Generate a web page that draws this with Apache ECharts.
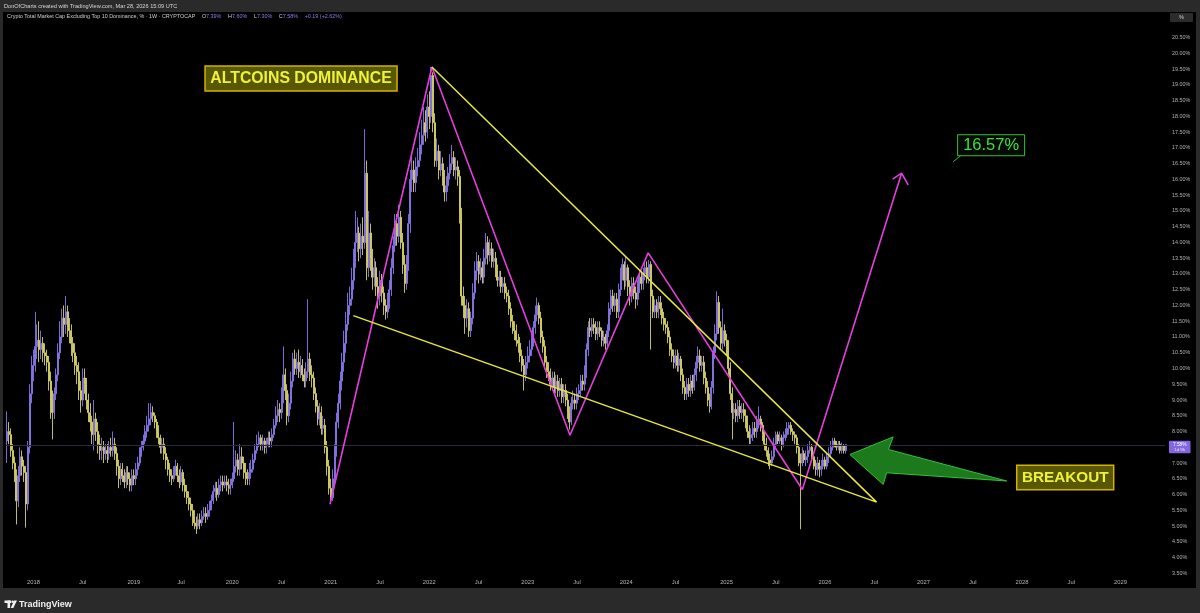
<!DOCTYPE html>
<html>
<head>
<meta charset="utf-8">
<script src="https://cdn.jsdelivr.net/npm/echarts@6/dist/echarts.min.js"></script>
<style>
  html, body { margin: 0; background: #000; }
  #chart { width: 1200px; height: 613px; }
</style>
</head>
<body>
<div id="chart"></div>
<script>
// weekly candles, CRYPTOCAP:OTHERS.D style, from 2017-09-25 to 2026-03-23
const startDate = Date.UTC(2017, 8, 25);
const totalWeeks = 612;          // axis runs on into 2029
const firstOpen = 7.7;
const closes = [
  8.0, 7.9, 7.4, 7.0, 6.6, 5.8, 6.6, 7.2, 6.9, 6.7,
  5.7, 7.5, 9.2, 9.9, 10.1, 10.7, 10.9, 10.6, 10.8, 10.5,
  10.4, 10.2, 9.6, 9.0, 8.6, 9.2, 9.8, 10.5, 11.0, 11.6,
  11.4, 11.8, 11.3, 11.2, 10.8, 10.5, 10.1, 9.9, 9.3, 9.0,
  9.7, 9.5, 9.0, 8.6, 8.3, 7.9, 8.4, 8.0, 7.6, 7.4,
  7.5, 7.3, 7.4, 7.3, 7.5, 7.4, 7.6, 7.3, 6.9, 6.5,
  6.8, 6.6, 6.4, 6.7, 6.5, 6.3, 6.6, 6.5, 6.8, 7.0,
  7.3, 7.5, 7.7, 8.0, 8.2, 8.4, 8.6, 8.5, 8.3, 8.0,
  7.8, 7.5, 7.6, 7.3, 7.1, 6.8, 6.6, 6.5, 6.7, 6.9,
  6.6, 6.4, 6.7, 6.3, 6.1, 5.9, 5.7, 5.5, 5.3, 5.1,
  5.0, 5.2, 5.1, 5.3, 5.4, 5.3, 5.5, 5.6, 5.8, 6.1,
  6.2, 6.0, 6.3, 6.4, 6.3, 6.4, 6.3, 6.2, 6.3, 6.5,
  6.9, 7.1, 6.8, 7.2, 7.0, 6.7, 6.6, 6.5, 6.7, 6.8,
  7.1, 7.4, 7.6, 7.8, 7.6, 7.7, 7.5, 7.6, 7.8, 7.7,
  7.9, 8.2, 8.5, 8.7, 8.6, 9.1, 9.8, 9.3, 8.5, 8.9,
  9.6, 10.3, 10.0, 10.2, 9.9, 10.1, 9.8, 9.6, 9.9, 10.3,
  9.8, 9.7, 9.2, 8.8, 8.4, 8.6, 8.1, 8.2, 7.5, 6.9,
  6.2, 5.9, 6.5, 7.4, 8.3, 8.9, 9.6, 10.2, 10.8, 11.4,
  12.0, 12.2, 12.8, 13.4, 14.0, 14.3, 13.8, 14.2, 14.0, 16.2,
  13.2, 14.3, 13.5, 12.9, 13.2, 12.6, 12.3, 12.8, 12.4, 12.0,
  11.8, 12.1, 12.5, 13.2, 13.9, 14.6, 14.2, 14.8, 14.0, 13.3,
  12.7, 13.3, 14.6, 16.0, 16.3, 15.9, 16.4, 16.6, 17.1, 17.4,
  17.8, 17.5, 18.3, 18.0, 19.3, 17.8, 16.6, 16.9, 16.3, 16.5,
  16.1, 15.6, 15.8, 16.2, 16.5, 16.7, 16.3, 16.4, 16.1, 14.9,
  12.3, 12.0, 11.6, 11.9, 11.2, 11.6, 12.4, 13.1, 13.4, 13.0,
  13.2, 12.9, 13.5, 14.0, 13.6, 13.8, 13.4, 13.5, 13.1, 12.8,
  12.9, 12.6, 12.7, 12.4, 12.3, 11.9, 11.5, 11.3, 11.2, 10.9,
  10.8, 10.4, 10.1, 9.8, 10.2, 10.4, 10.6, 10.9, 11.3, 11.7,
  12.0, 11.6, 11.0, 10.7, 10.2, 9.9, 9.8, 9.5, 9.7, 9.4,
  9.6, 9.3, 9.5, 9.1, 9.3, 9.0, 8.6, 8.3, 8.9, 9.0,
  8.9, 9.2, 9.3, 9.6, 9.5, 9.9, 10.6, 11.3, 11.2, 11.4,
  11.3, 11.1, 11.3, 11.2, 10.9, 11.0, 10.8, 11.2, 11.9, 12.3,
  12.0, 12.2, 11.8, 12.5, 13.0, 13.3, 12.8, 13.2, 12.6, 12.3,
  12.7, 12.4, 12.2, 12.6, 12.9, 12.7, 13.0, 13.2, 12.9, 13.3,
  12.3, 11.8, 12.0, 11.8, 12.1, 11.9, 11.6, 11.4, 11.3, 11.0,
  10.6, 10.4, 10.2, 10.4, 10.1, 10.3, 9.8, 9.4, 9.2, 9.5,
  9.3, 9.6, 9.4, 9.8, 10.2, 10.4, 10.1, 10.2, 9.7, 9.4,
  9.0, 8.8, 9.4, 10.5, 11.1, 12.1, 11.3, 10.8, 11.2, 10.9,
  10.7, 10.0, 9.2, 8.6, 8.7, 8.5, 8.8, 8.6, 8.7, 8.5,
  8.3, 8.0, 7.8, 7.9, 8.1, 8.0, 8.3, 8.4, 8.2, 7.9,
  7.6, 7.4, 7.1, 7.0, 7.2, 7.6, 7.9, 7.7, 7.8, 7.6,
  7.8, 7.9, 8.1, 8.2, 8.0, 7.9, 7.8, 7.5, 7.1, 7.0,
  7.3, 7.1, 7.2, 7.4, 7.5, 7.2, 6.9, 6.8, 7.0, 6.8,
  6.9, 7.1, 6.9, 7.2, 7.3, 7.5, 7.7, 7.6, 7.5, 7.6,
  7.4, 7.55, 7.39, 7.58
];
const highs = [
  8.64, 8.3, 8.1, 7.6, 7.2, 6.8, 6.9, 7.5, 7.4, 7.1,
  6.9, 7.7, 9.5, 10.4, 10.6, 11.8, 11.4, 11.5, 11.2, 11.0,
  10.8, 10.6, 10.4, 9.9, 9.3, 9.4, 10.0, 10.8, 11.5, 11.9,
  12.0, 12.3, 12.0, 11.6, 11.4, 11.0, 10.8, 10.4, 10.2, 9.6,
  10.0, 10.0, 9.7, 9.2, 8.9, 8.5, 9.0, 8.6, 8.3, 7.9,
  7.8, 7.7, 7.6, 7.6, 7.7, 7.8, 8.0, 7.8, 7.5, 7.1,
  7.0, 7.0, 6.8, 6.9, 6.9, 6.7, 6.8, 6.8, 7.0, 7.2,
  7.5, 7.7, 7.9, 8.2, 8.5, 8.9, 8.9, 8.8, 8.6, 8.4,
  8.2, 7.9, 7.8, 7.8, 7.5, 7.2, 7.0, 6.8, 6.9, 7.1,
  7.0, 6.8, 6.9, 6.8, 6.5, 6.3, 6.1, 5.9, 5.7, 5.5,
  5.3, 5.4, 5.4, 5.5, 5.6, 5.6, 5.7, 5.8, 6.0, 6.3,
  6.4, 6.4, 6.5, 6.6, 6.6, 6.6, 6.6, 6.5, 6.5, 6.7,
  8.3, 7.4, 7.3, 7.6, 7.5, 7.2, 7.0, 6.8, 7.0, 7.1,
  7.3, 7.6, 7.9, 8.0, 7.9, 7.9, 7.8, 7.8, 8.0, 8.0,
  8.1, 8.4, 8.8, 9.0, 8.9, 9.4, 10.7, 10.0, 9.5, 9.2,
  9.9, 10.5, 10.6, 10.5, 10.6, 10.4, 10.3, 10.0, 10.2, 12.2,
  10.5, 10.1, 9.9, 9.4, 9.0, 8.9, 8.8, 8.5, 8.4, 7.7,
  7.1, 6.5, 6.8, 7.6, 8.6, 9.2, 9.9, 10.5, 11.2, 11.8,
  12.4, 12.6, 13.2, 13.8, 15.0, 14.8, 14.5, 14.6, 14.8, 17.6,
  16.6, 15.0, 14.6, 13.8, 13.5, 13.4, 12.9, 13.1, 13.0, 12.6,
  12.2, 12.4, 12.8, 13.5, 14.2, 14.9, 14.9, 15.2, 15.0, 14.3,
  13.6, 13.6, 14.9, 16.3, 16.8, 16.6, 16.7, 17.0, 17.5, 17.9,
  18.3, 18.2, 18.7, 18.8, 19.57, 19.4, 18.1, 17.3, 17.1, 16.9,
  16.7, 16.3, 16.1, 16.4, 16.8, 17.1, 16.9, 16.7, 16.6, 16.3,
  15.1, 12.6, 12.3, 12.2, 12.1, 11.8, 12.7, 13.4, 13.7, 13.6,
  13.5, 13.4, 13.8, 14.3, 14.2, 14.1, 14.0, 13.8, 13.7, 13.3,
  13.1, 13.1, 12.9, 12.9, 12.6, 12.5, 12.1, 11.7, 11.5, 11.4,
  11.1, 11.0, 10.6, 10.3, 10.4, 10.7, 10.9, 11.2, 11.5, 12.0,
  12.25, 12.1, 11.8, 11.2, 10.9, 10.4, 10.2, 10.0, 9.9, 9.9,
  9.8, 9.8, 9.7, 9.7, 9.5, 9.5, 9.2, 8.8, 9.1, 9.3,
  9.2, 9.4, 9.5, 9.8, 9.8, 10.1, 10.8, 11.5, 11.6, 11.6,
  11.6, 11.5, 11.5, 11.5, 11.3, 11.2, 11.1, 11.4, 12.1, 12.5,
  12.5, 12.4, 12.4, 12.7, 13.2, 13.5, 13.4, 13.55, 13.3, 12.8,
  12.9, 12.9, 12.6, 12.8, 13.1, 13.1, 13.2, 13.4, 13.4, 13.45,
  13.4, 12.5, 12.2, 12.2, 12.3, 12.3, 12.1, 11.8, 11.6, 11.5,
  11.2, 10.8, 10.6, 10.6, 10.6, 10.5, 10.4, 10.0, 9.6, 9.7,
  9.7, 9.8, 9.8, 10.0, 10.4, 10.7, 10.6, 10.4, 10.4, 9.9,
  9.6, 9.2, 9.6, 10.7, 11.4, 12.45, 12.3, 11.5, 11.9, 11.4,
  11.1, 10.9, 10.2, 9.4, 8.9, 8.9, 9.0, 9.0, 8.9, 8.9,
  8.7, 8.5, 8.2, 8.1, 8.3, 8.3, 8.5, 8.8, 8.5, 8.3,
  8.0, 7.8, 7.5, 7.3, 7.4, 7.8, 8.0, 8.0, 8.0, 7.9,
  8.0, 8.1, 8.3, 8.3, 8.3, 8.1, 8.0, 7.9, 7.6, 7.3,
  7.5, 7.4, 7.4, 7.6, 7.7, 7.6, 7.3, 7.1, 7.2, 7.1,
  7.1, 7.3, 7.2, 7.3, 7.5, 7.7, 7.8, 7.8, 7.7, 7.7,
  7.7, 7.65, 7.6, 7.60
];
const lows = [
  7.0, 7.6, 7.2, 6.8, 6.4, 5.05, 5.6, 6.4, 6.6, 6.4,
  4.95, 5.5, 7.3, 8.9, 9.6, 9.9, 10.3, 10.2, 10.3, 10.2,
  10.1, 9.9, 9.3, 8.4, 7.75, 8.4, 9.0, 9.6, 10.3, 10.8,
  11.0, 11.1, 11.0, 10.8, 10.4, 10.2, 9.8, 9.5, 9.0, 8.6,
  8.8, 9.2, 8.7, 8.3, 8.0, 7.6, 7.4, 7.7, 7.3, 7.1,
  7.1, 7.0, 7.1, 7.0, 7.1, 7.2, 7.2, 7.1, 6.6, 6.2,
  6.3, 6.4, 6.2, 6.2, 6.3, 6.1, 6.1, 6.3, 6.3, 6.6,
  6.9, 7.2, 7.4, 7.6, 7.8, 8.0, 8.2, 8.3, 8.1, 7.8,
  7.6, 7.3, 7.3, 7.1, 6.8, 6.6, 6.4, 6.3, 6.4, 6.6,
  6.4, 6.2, 6.3, 6.1, 5.9, 5.7, 5.5, 5.3, 5.0, 4.9,
  4.75, 4.9, 4.9, 5.0, 5.2, 5.1, 5.2, 5.3, 5.5, 5.7,
  5.9, 5.8, 5.9, 6.1, 6.1, 6.2, 6.1, 6.0, 6.0, 6.2,
  6.4, 6.7, 6.6, 6.6, 6.8, 6.5, 6.3, 6.3, 6.3, 6.5,
  6.7, 7.0, 7.3, 7.5, 7.4, 7.4, 7.3, 7.3, 7.5, 7.5,
  7.5, 7.8, 8.1, 8.3, 8.3, 8.4, 8.9, 9.0, 8.2, 8.3,
  8.7, 9.4, 9.8, 9.8, 9.7, 9.7, 9.6, 9.4, 9.4, 9.7,
  9.6, 9.4, 9.0, 8.6, 8.2, 8.2, 7.9, 7.9, 7.3, 6.6,
  6.0, 5.7, 5.8, 6.3, 7.2, 8.1, 8.7, 9.3, 9.9, 10.5,
  11.2, 11.7, 12.0, 12.5, 13.2, 13.7, 13.4, 13.5, 13.6, 13.8,
  12.8, 12.9, 13.1, 12.5, 12.6, 12.3, 11.9, 12.0, 12.1, 11.7,
  11.55, 11.6, 11.9, 12.3, 13.0, 13.7, 13.9, 14.0, 13.8, 13.0,
  12.4, 12.5, 13.1, 14.3, 15.6, 15.6, 15.6, 16.1, 16.4, 16.8,
  17.1, 17.2, 17.3, 17.6, 17.8, 17.5, 16.4, 16.4, 16.0, 16.1,
  15.8, 15.3, 15.3, 15.6, 16.0, 16.3, 16.1, 16.0, 15.8, 14.6,
  12.0, 11.6, 11.1, 11.3, 11.0, 11.0, 11.4, 12.2, 12.8, 12.7,
  12.8, 12.7, 12.7, 13.3, 13.3, 13.4, 13.2, 13.2, 12.9, 12.6,
  12.6, 12.4, 12.4, 12.2, 12.1, 11.7, 11.3, 11.1, 10.9, 10.7,
  10.5, 10.2, 9.9, 9.3, 9.6, 10.0, 10.2, 10.4, 10.7, 11.1,
  11.5, 11.4, 10.8, 10.5, 10.0, 9.7, 9.6, 9.3, 9.3, 9.2,
  9.2, 9.1, 9.1, 8.9, 8.9, 8.8, 8.4, 8.07, 8.2, 8.7,
  8.7, 8.7, 9.0, 9.1, 9.3, 9.3, 9.7, 10.4, 11.0, 11.0,
  11.1, 10.9, 10.9, 11.0, 10.7, 10.7, 10.6, 10.7, 11.0, 11.7,
  11.8, 11.8, 11.6, 11.6, 12.3, 12.8, 12.5, 12.6, 12.3, 12.0,
  12.1, 12.2, 11.9, 12.0, 12.4, 12.5, 12.5, 12.8, 12.7, 12.7,
  10.6, 11.6, 11.6, 11.6, 11.6, 11.7, 11.4, 11.2, 11.1, 10.8,
  10.4, 10.2, 10.0, 10.0, 9.9, 9.9, 9.6, 9.2, 9.0, 9.0,
  9.1, 9.1, 9.2, 9.3, 9.6, 10.0, 9.9, 9.9, 9.5, 9.2,
  8.8, 8.6, 8.7, 9.2, 10.3, 10.9, 11.1, 10.6, 10.6, 10.7,
  10.4, 9.8, 9.0, 7.75, 8.4, 8.3, 8.3, 8.4, 8.4, 8.3,
  8.1, 7.8, 7.6, 7.6, 7.7, 7.8, 7.8, 8.1, 8.0, 7.7,
  7.4, 7.2, 6.9, 6.8, 6.9, 7.1, 7.5, 7.6, 7.6, 7.4,
  7.5, 7.7, 7.8, 7.9, 7.9, 7.7, 7.6, 7.3, 6.9, 4.9,
  6.9, 7.0, 6.9, 7.0, 7.3, 7.1, 6.8, 6.6, 6.6, 6.55,
  6.6, 6.8, 6.8, 6.8, 7.0, 7.2, 7.4, 7.5, 7.4, 7.4,
  7.3, 7.3, 7.3, 7.30
];
const lastPrice = 7.58;
const yMin = 3.5, yMax = 20.5, yStep = 0.5;

// drawings, as [week index, value]
const zigzag = [[170.6, 5.69], [224.4, 19.57], [297.3, 7.88], [338.6, 13.67], [420.0, 6.16], [472.4, 16.2]];
const arrowHead = [[467.7, 16.01], [472.4, 16.2], [475.9, 15.83]];
const wedge = [[182.9, 11.68], [459.2, 5.76], [224.4, 19.57]];
const greenArrow = [[445.1, 7.27], [468.0, 7.83], [465.4, 7.43], [527.9, 6.43], [464.5, 6.69], [462.7, 6.32]];
const altcoinsAt = [104.6, 19.6];
const breakoutAt = [533.2, 6.93];
const targetAt = [502.0, 17.42];

const weeks = [];
for (let i = 0; i < totalWeeks; i++) {
  weeks.push(new Date(startDate + i * 7 * 86400000).toISOString().slice(0, 10));
}
const monthOf = i => +weeks[i].slice(5, 7);
function isLabelWeek(i) {
  if (i === 0) return false;
  const m = monthOf(i);
  return m !== monthOf(i - 1) && (m === 1 || m === 7);
}

const candles = closes.map((c, i) => [i === 0 ? firstOpen : closes[i - 1], c, lows[i], highs[i]]);

const chart = echarts.init(document.getElementById('chart'));
chart.setOption({
  backgroundColor: '#000',
  animation: false,
  grid: { left: 6, right: 35, top: 37.7, bottom: 39.7 },
  xAxis: [{
    type: 'category',
    data: weeks,
    axisLine: { show: false },
    axisTick: { show: false },
    splitLine: { show: false },
    axisLabel: {
      interval: (idx) => isLabelWeek(idx),
      formatter: (val) => (+val.slice(5, 7) === 1 ? val.slice(0, 4) : 'Jul'),
      color: '#b4b4b4',
      fontSize: 5.8,
      fontFamily: 'Liberation Sans',
      margin: 6
    }
  }, {
    type: 'value',
    min: -0.5,
    max: totalWeeks - 0.5,
    show: false
  }],
  yAxis: {
    type: 'value',
    position: 'right',
    min: yMin,
    max: yMax,
    interval: yStep,
    axisLine: { show: false },
    axisTick: { show: false },
    splitLine: { show: false },
    axisLabel: {
      formatter: v => v.toFixed(2) + '%',
      color: '#b4b4b4',
      fontSize: 5.4,
      fontFamily: 'Liberation Sans',
      margin: 7
    }
  },
  series: [
    {
      type: 'candlestick',
      data: candles,
      barWidth: 1.5,
      itemStyle: {
        color: '#8a76ec',
        color0: '#e4e070',
        borderColor: '#8a76ec',
        borderColor0: '#d6d264',
        borderWidth: 0.9
      },
      markLine: {
        silent: true,
        symbol: 'none',
        label: { show: false },
        lineStyle: { color: '#2c2a3c', width: 1, type: 'solid' },
        data: [{ yAxis: lastPrice }]
      }
    },
    {
      type: 'line', xAxisIndex: 1, data: zigzag, symbol: 'none', z: 5,
      lineStyle: { color: '#e23fde', width: 1.6 }
    },
    {
      type: 'line', xAxisIndex: 1, data: arrowHead, symbol: 'none', z: 5,
      lineStyle: { color: '#e23fde', width: 1.6 }
    },
    {
      type: 'line', xAxisIndex: 1, data: wedge, symbol: 'none', z: 5,
      lineStyle: { color: '#e6e83a', width: 1.5 }
    }
  ]
});

const px = p => chart.convertToPixel({ seriesIndex: 1 }, p);
const priceY = chart.convertToPixel({ yAxisIndex: 0 }, lastPrice);
const alt = px(altcoinsAt), brk = px(breakoutAt), tgt = px(targetAt);
const font = 'Liberation Sans';

chart.setOption({
  graphic: [
    // frame
    { type: 'rect', shape: { x: 0, y: 0, width: 1200, height: 12 }, style: { fill: '#2a2a2a' }, z: 50 },
    { type: 'rect', shape: { x: 0, y: 588, width: 1200, height: 25 }, style: { fill: '#2a2a2a' }, z: 50 },
    { type: 'rect', shape: { x: 0, y: 0, width: 3, height: 613 }, style: { fill: '#2a2a2a' }, z: 50 },
    { type: 'rect', shape: { x: 1196, y: 0, width: 4, height: 613 }, style: { fill: '#2a2a2a' }, z: 50 },
    {
      type: 'text', z: 51, x: 4, y: 6,
      style: { text: 'DonOfCharts created with TradingView.com, Mar 28, 2026 15:09 UTC', fill: '#d6d6d6',
        font: '5.6px "' + font + '"', verticalAlign: 'middle' }
    },
    {
      type: 'text', z: 51, x: 7, y: 17,
      style: {
        text: '{t|Crypto Total Market Cap Excluding Top 10 Dominance, % · 1W · CRYPTOCAP}  {k|O}{v|7.39%}  {k|H}{v|7.60%}  {k|L}{v|7.30%}  {k|C}{v|7.58%}  {v|+0.19 (+2.62%)}',
        verticalAlign: 'middle',
        rich: {
          t: { fill: '#cfcfcf', font: '5.4px "' + font + '"' },
          k: { fill: '#cfcfcf', font: '5.4px "' + font + '"' },
          v: { fill: '#8f7de8', font: '5.4px "' + font + '"' }
        }
      }
    },
    { type: 'rect', z: 51, shape: { x: 1170, y: 13, width: 23, height: 9, r: 1 }, style: { fill: '#2c2c2c' } },
    { type: 'text', z: 52, x: 1181.5, y: 17.5, style: { text: '%', fill: '#d0d0d0', font: '5.5px "' + font + '"', align: 'center', verticalAlign: 'middle' } },
    // footer logo
    { type: 'rect', z: 51, shape: { x: 4.5, y: 600.5, width: 6.5, height: 2.5 }, style: { fill: '#f0f0f0' } },
    { type: 'rect', z: 51, shape: { x: 7.5, y: 600.5, width: 2.6, height: 7.5 }, style: { fill: '#f0f0f0' } },
    { type: 'circle', z: 51, shape: { cx: 12.6, cy: 601.8, r: 1.3 }, style: { fill: '#f0f0f0' } },
    { type: 'polygon', z: 51, shape: { points: [[14, 600.5], [17, 600.5], [13.3, 608], [10.8, 608]] }, style: { fill: '#f0f0f0' } },
    { type: 'text', z: 51, x: 19, y: 604.5, style: { text: 'TradingView', fill: '#f0f0f0', font: 'bold 9px "' + font + '"', verticalAlign: 'middle' } },
    // price label on scale
    { type: 'rect', z: 51, shape: { x: 1169, y: priceY - 4, width: 21.5, height: 12.5, r: 1 }, style: { fill: '#8467e0' } },
    { type: 'text', z: 52, x: 1179.7, y: priceY, style: { text: '7.58%', fill: '#fff', font: '4.8px "' + font + '"', align: 'center', verticalAlign: 'middle' } },
    { type: 'text', z: 52, x: 1179.7, y: priceY + 5.2, style: { text: '1d 9h', fill: '#e8e0ff', font: '4.4px "' + font + '"', align: 'center', verticalAlign: 'middle' } },
    // green breakout arrow
    { type: 'polygon', z: 20, shape: { points: greenArrow.map(px) }, style: { fill: '#1c7a1c', stroke: '#35c035', lineWidth: 1 } },
    // ALTCOINS DOMINANCE
    { type: 'rect', z: 20, shape: { x: alt[0], y: alt[1], width: 192, height: 25 }, style: { fill: '#585800', stroke: '#d2b200', lineWidth: 1.5 } },
    { type: 'text', z: 21, x: alt[0] + 96, y: alt[1] + 13, style: { text: 'ALTCOINS DOMINANCE', fill: '#eef23a', font: 'bold 15.8px "' + font + '"', align: 'center', verticalAlign: 'middle' } },
    // BREAKOUT
    { type: 'rect', z: 20, shape: { x: brk[0], y: brk[1], width: 97, height: 24.5 }, style: { fill: '#585800', stroke: '#d2b200', lineWidth: 1.5 } },
    { type: 'text', z: 21, x: brk[0] + 48.5, y: brk[1] + 13, style: { text: 'BREAKOUT', fill: '#eef23a', font: 'bold 15.3px "' + font + '"', align: 'center', verticalAlign: 'middle' } },
    // target label
    { type: 'rect', z: 20, shape: { x: tgt[0], y: tgt[1], width: 67, height: 21 }, style: { fill: '#050a05', stroke: '#35c035', lineWidth: 1 } },
    { type: 'polyline', z: 20, shape: { points: [[tgt[0] + 3, tgt[1] + 21], [tgt[0] - 4.5, tgt[1] + 27]] }, style: { stroke: '#35c035', lineWidth: 1 } },
    { type: 'text', z: 21, x: tgt[0] + 33.5, y: tgt[1] + 11, style: { text: '16.57%', fill: '#3ee03e', font: '16.5px "' + font + '"', align: 'center', verticalAlign: 'middle' } }
  ]
});
</script>
</body>
</html>
